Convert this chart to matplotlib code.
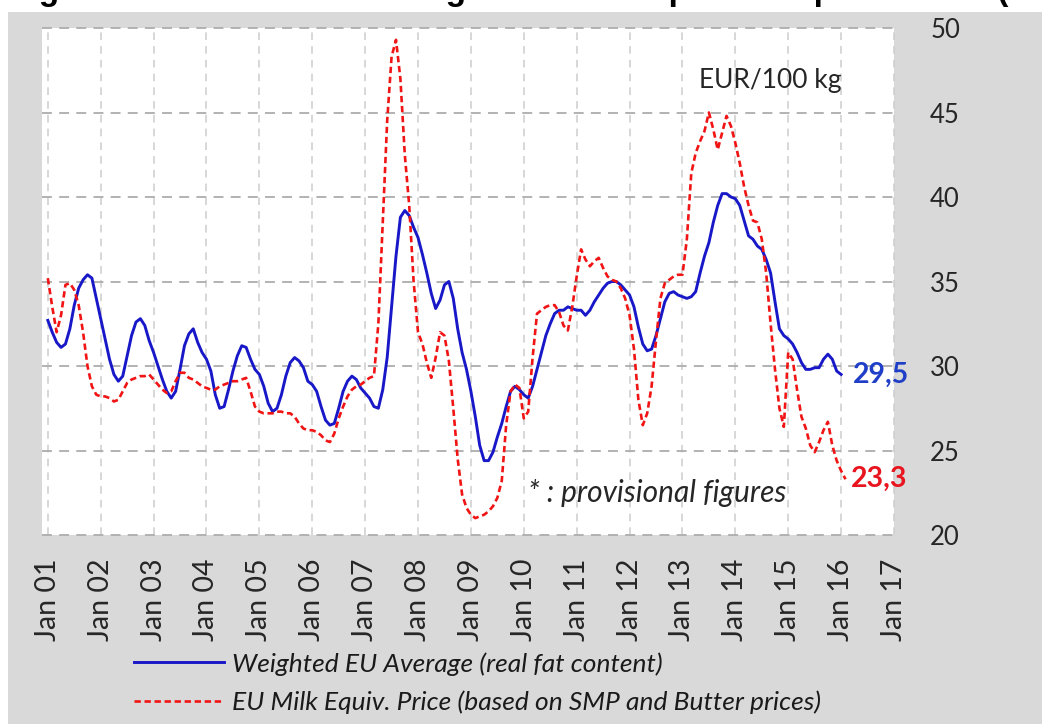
import matplotlib
matplotlib.use("Agg")
import matplotlib.pyplot as plt
from matplotlib.patches import Rectangle
import numpy as np

# ---------------- data (monthly, EUR/100 kg) ----------------
start_year = 2001
weighted_eu_avg = [
    # 2001
    32.7, 32.0, 31.4, 31.1, 31.3, 32.2, 33.6, 34.6, 35.1, 35.4, 35.2, 34.0,
    # 2002
    32.8, 31.6, 30.4, 29.5, 29.1, 29.4, 30.6, 31.8, 32.6, 32.8, 32.4, 31.5,
    # 2003
    30.8, 30.0, 29.2, 28.5, 28.1, 28.5, 29.8, 31.2, 31.9, 32.2, 31.4, 30.8,
    # 2004
    30.4, 29.7, 28.3, 27.5, 27.6, 28.6, 29.7, 30.6, 31.2, 31.1, 30.4, 29.8,
    # 2005
    29.5, 28.8, 27.8, 27.3, 27.5, 28.3, 29.4, 30.2, 30.5, 30.3, 29.9, 29.1,
    # 2006
    28.9, 28.5, 27.6, 26.8, 26.5, 26.6, 27.5, 28.5, 29.1, 29.4, 29.2, 28.7,
    # 2007
    28.4, 28.1, 27.6, 27.5, 28.6, 30.5, 33.5, 36.5, 38.8, 39.2, 38.9, 38.2,
    # 2008
    37.6, 36.6, 35.5, 34.3, 33.4, 33.9, 34.8, 35.0, 34.0, 32.2, 30.8, 29.8,
    # 2009
    28.5, 27.0, 25.3, 24.4, 24.4, 24.9, 25.8, 26.6, 27.6, 28.5, 28.8, 28.6,
    # 2010
    28.3, 28.1, 28.8, 29.8, 30.8, 31.8, 32.5, 33.1, 33.3, 33.3, 33.5, 33.4,
    # 2011
    33.3, 33.3, 33.0, 33.3, 33.8, 34.2, 34.6, 34.9, 35.0, 35.0, 34.8, 34.5,
    # 2012
    34.2, 33.5, 32.3, 31.3, 30.9, 31.0, 31.8, 32.8, 33.8, 34.3, 34.4, 34.2,
    # 2013
    34.1, 34.0, 34.1, 34.4, 35.5, 36.5, 37.3, 38.5, 39.5, 40.2, 40.2, 40.0,
    # 2014
    39.9, 39.5, 38.6, 37.7, 37.5, 37.1, 36.9, 36.3, 35.5, 33.8, 32.2, 31.8,
    # 2015
    31.6, 31.3, 30.8, 30.2, 29.8, 29.8, 29.9, 29.9, 30.4, 30.7, 30.4, 29.7,
    # 2016
    29.5,
]
milk_equiv_price = [
    # 2001
    35.2, 33.5, 32.0, 33.0, 34.8, 34.9, 34.5, 33.6, 32.0, 30.0, 28.8, 28.3,
    # 2002
    28.2, 28.2, 28.1, 27.9, 28.0, 28.5, 29.0, 29.2, 29.3, 29.4, 29.4, 29.5,
    # 2003
    29.2, 28.9, 28.6, 28.4, 28.5, 29.1, 29.6, 29.6, 29.3, 29.2, 29.0, 28.8,
    # 2004
    28.7, 28.6, 28.6, 28.8, 28.9, 29.0, 29.1, 29.1, 29.2, 29.3, 28.5, 27.6,
    # 2005
    27.3, 27.2, 27.2, 27.2, 27.3, 27.3, 27.2, 27.2, 27.0, 26.6, 26.3, 26.2,
    # 2006
    26.2, 26.1, 25.9, 25.6, 25.5, 26.0, 26.9, 27.6, 28.2, 28.6, 28.8, 28.9,
    # 2007
    29.1, 29.3, 29.4, 32.5, 38.5, 44.5, 48.3, 49.3, 47.0, 42.5, 39.5, 35.0,
    # 2008
    32.0, 31.3, 30.2, 29.3, 30.5, 32.0, 31.8, 30.3, 27.5, 24.5, 22.4, 21.6,
    # 2009
    21.2, 21.0, 21.1, 21.2, 21.4, 21.7, 22.2, 23.2, 26.5, 28.5, 28.9, 28.7,
    # 2010
    26.9, 27.3, 30.5, 33.1, 33.3, 33.5, 33.6, 33.6, 33.2, 32.4, 32.1, 33.5,
    # 2011
    35.3, 36.9, 36.3, 35.9, 36.2, 36.4, 35.8, 35.3, 35.1, 35.0, 34.6, 34.0,
    # 2012
    33.0, 31.0, 28.0, 26.5, 27.2, 28.8, 31.5, 34.0, 34.9, 35.1, 35.3, 35.4,
    # 2013
    35.4, 37.5, 41.4, 42.6, 43.3, 43.9, 45.0, 44.0, 42.8, 43.8, 44.8, 44.2,
    # 2014
    43.2, 42.0, 40.6, 39.5, 38.6, 38.5, 37.5, 35.5, 32.5, 29.8, 27.5, 26.4,
    # 2015
    30.8, 30.4, 28.6, 27.0, 26.3, 25.3, 24.9, 25.5, 26.2, 26.7, 25.3, 24.4,
    # 2016
    23.8, 23.3,
]
tick_years = list(range(2001, 2018))
tick_labels = ["Jan %02d" % (y % 100) for y in tick_years]
y_ticks = [20, 25, 30, 35, 40, 45, 50]
series_names = ["Weighted EU Average (real fat content)",
                "EU Milk Equiv. Price (based on SMP and Butter prices)"]
last_blue_label = "29,5"
last_red_label = "23,3"
title_text = "Figure 1: EU raw milk average and milk equivalent price in EU (EUR/100 kg)"

t_blue = start_year + np.arange(len(weighted_eu_avg)) / 12.0
t_red = start_year + np.arange(len(milk_equiv_price)) / 12.0

# ---------------- figure ----------------
W, H = 1042, 724
fig = plt.figure(figsize=(W / 100, H / 100), dpi=100, facecolor="white")
bg = Rectangle((8 / W, 0), 1 - 8 / W, 1 - 12 / H, transform=fig.transFigure,
               facecolor="#D9D9D9", edgecolor="none", zorder=-10)
fig.add_artist(bg)

# title of the page, cut by the top edge (only descenders are visible)
fig.text(9 / W, 1.0, title_text, family="Liberation Sans", weight="bold",
         fontsize=24, color="black", ha="left", va="baseline")

L, R, T, B = 42, 894, 28, 535
ax = fig.add_axes([L / W, 1 - B / H, (R - L) / W, (B - T) / H])
ax.set_facecolor("white")
for s in ax.spines.values():
    s.set_visible(False)

blue_line, = ax.plot(t_blue, weighted_eu_avg, color="#1818C8", lw=2.1,
                     solid_joinstyle="round", zorder=3)
red_line, = ax.plot(t_red, milk_equiv_price, color="#F01414", lw=1.9,
                    linestyle=(0, (2.4, 1.4)), zorder=4)

ax.set_xlim(2000.89, 2017.0)
ax.set_ylim(20, 50)
ax.set_xticks(tick_years)
ax.set_xticklabels(tick_labels, rotation=90, family="Lato", fontsize=20.5,
                   color="#262626")
ax.set_yticks(y_ticks)
ax.set_yticklabels([str(v) for v in y_ticks], family="Lato", fontsize=18.5,
                   color="#262626")
ax.yaxis.tick_right()
ax.tick_params(axis="y", length=0, pad=26)
ax.tick_params(axis="x", length=0, pad=17)
for lab in ax.get_xticklabels():
    lab.set_va("top")

ax.grid(True, axis="x", color="#CDCDCD", lw=1.1, linestyle=(0, (5, 4)))
ax.grid(True, axis="y", color="#ADADAD", lw=1.3, linestyle=(0, (5.5, 4)))
for gl in ax.get_xgridlines() + ax.get_ygridlines():
    gl.set_clip_on(False)
ax.set_axisbelow(True)

# annotations
ax.text(0.771, 0.897, "EUR/100 kg", transform=ax.transAxes, family="Lato",
        fontsize=19, color="#262626", ha="left", va="center")
ax.text(0.570, 0.083, "* : provisional figures", transform=ax.transAxes,
        family="Lato", style="italic", fontsize=21.5, color="#262626",
        ha="left", va="center")
ax.annotate(last_blue_label, xy=(t_blue[-1], weighted_eu_avg[-1]),
            xytext=(12, 0), textcoords="offset pixels", family="Lato",
            weight="bold", fontsize=20.5, color="#1F3FC8", ha="left",
            va="center", annotation_clip=False)
ax.annotate(last_red_label, xy=(t_red[-1], milk_equiv_price[-1]),
            xytext=(5, 0), textcoords="offset pixels", family="Lato",
            weight="bold", fontsize=20.5, color="#E8141E", ha="left",
            va="center", annotation_clip=False)

# legend
leg = fig.legend([blue_line, red_line], series_names, loc="upper left",
                 bbox_to_anchor=(134 / W, 1 - 652 / H), frameon=False,
                 prop={"family": "Lato", "style": "italic", "size": 19},
                 handlelength=3.4, handletextpad=0.3, labelspacing=0.55,
                 borderpad=0, borderaxespad=0)
for txt in leg.get_texts():
    txt.set_color("#1A1A1A")

fig.savefig("out.png", dpi=100, facecolor=fig.get_facecolor())
